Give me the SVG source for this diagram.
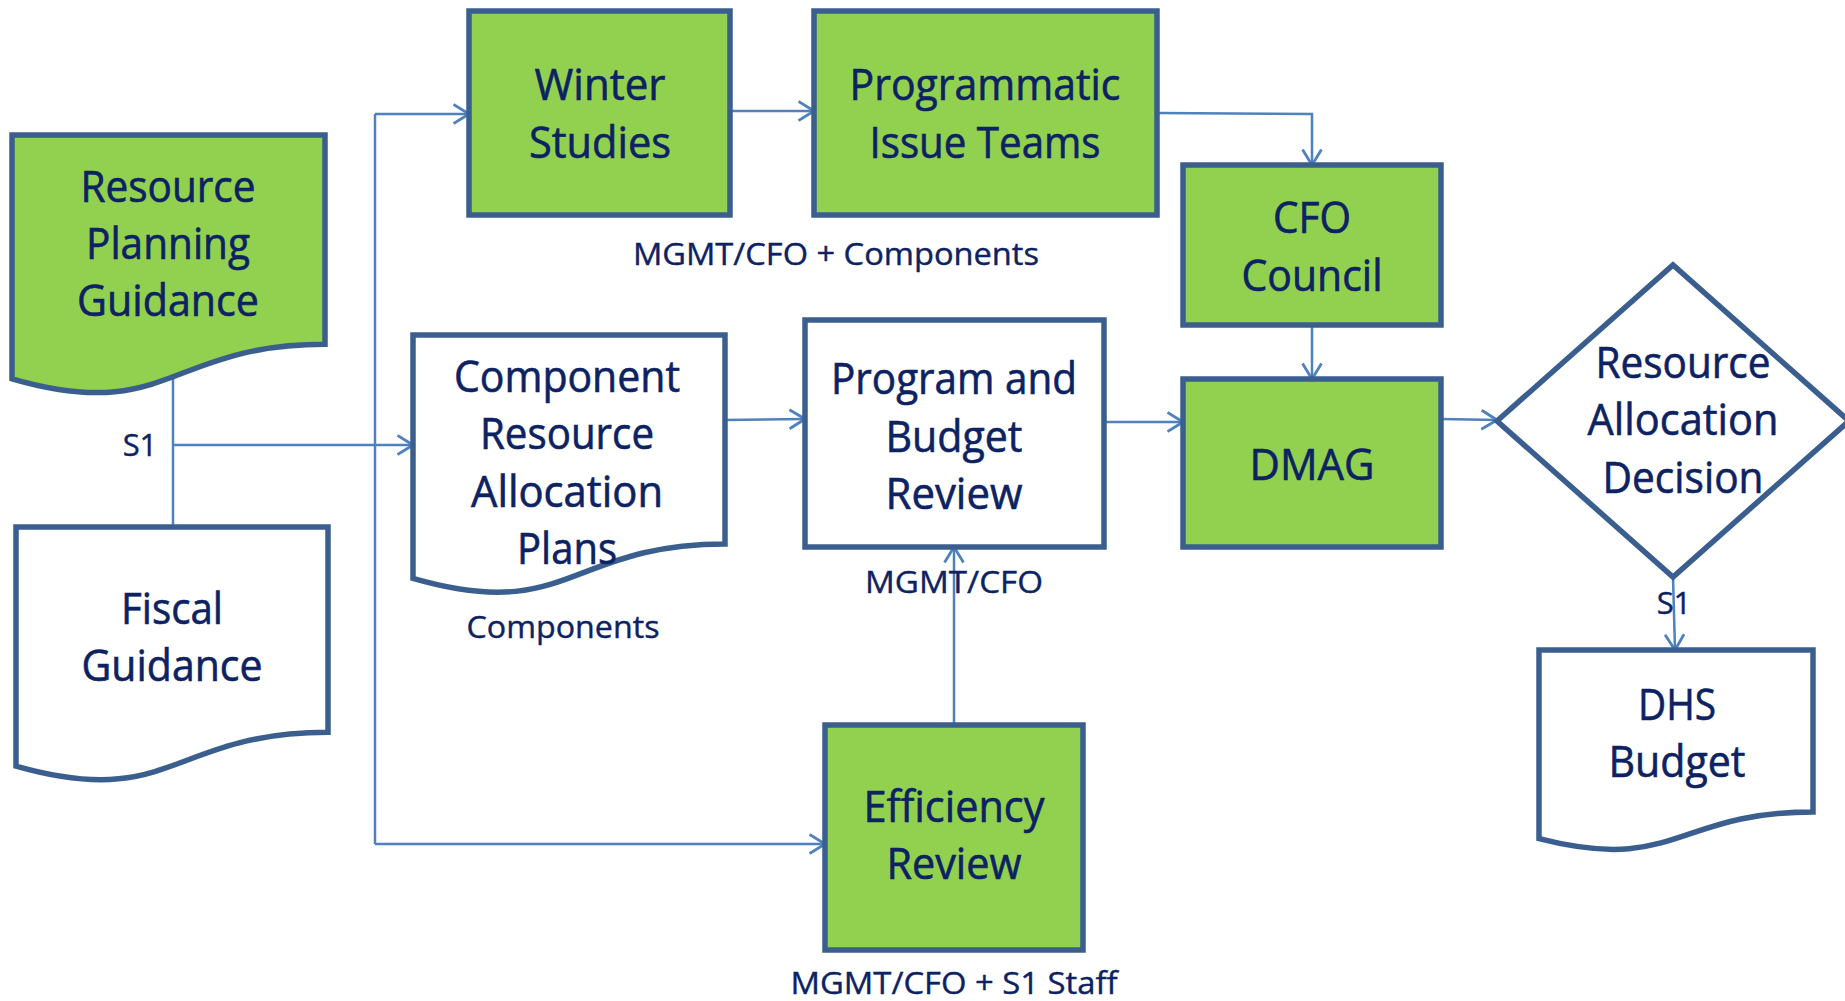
<svg xmlns="http://www.w3.org/2000/svg" width="1845" height="1001" viewBox="0 0 1845 1001">
<style>
.n{stroke:#3a5f8e;stroke-width:5.5;stroke-linejoin:miter}
.g{fill:#92d050}
.w{fill:#ffffff}
.c{fill:none;stroke:#4f81bd;stroke-width:2.5}
text{font-family:"Open Sans","Liberation Sans",sans-serif;fill:#0c2262;stroke:#0c2262;stroke-width:0.6;text-anchor:middle}
.t{font-size:43px}
.l{font-size:31px;stroke-width:0.4}
</style>
<defs>
<marker id="ar" markerUnits="userSpaceOnUse" viewBox="0 0 18 22" refX="16.5" refY="11" markerWidth="18" markerHeight="22" orient="auto">
<path d="M1,1.5 L16.5,11 L1,20.5" fill="none" stroke="#4f81bd" stroke-width="2.8"/>
</marker>
</defs>
<rect width="1845" height="1001" fill="#ffffff"/>
<g id="connectors">
<path class="c" d="M173,370 V527"/>
<path class="c" d="M173,445 H413" marker-end="url(#ar)"/>
<path class="c" d="M375,114 V844"/>
<path class="c" d="M375,114 H469" marker-end="url(#ar)"/>
<path class="c" d="M375,844 H825" marker-end="url(#ar)"/>
<path class="c" d="M730,111 H814" marker-end="url(#ar)"/>
<path class="c" d="M1157,113 L1312,114 V165" marker-end="url(#ar)"/>
<path class="c" d="M1312,325 V379" marker-end="url(#ar)"/>
<path class="c" d="M725,420 L805,419" marker-end="url(#ar)"/>
<path class="c" d="M1104,422 H1183" marker-end="url(#ar)"/>
<path class="c" d="M1441,419 L1497,420" marker-end="url(#ar)"/>
<path class="c" d="M954,725 V547" marker-end="url(#ar)"/>
<path class="c" d="M1673,577 L1675,650" marker-end="url(#ar)"/>
</g>
<g id="resource-planning-guidance">
<path class="n g" d="M12,135 H325 V344.3 C168.5,344.3 168.5,424 12,378.8 Z"/>
<text class="t" x="168" y="202" textLength="175" lengthAdjust="spacingAndGlyphs">Resource</text>
<text class="t" x="168" y="259" textLength="164" lengthAdjust="spacingAndGlyphs">Planning</text>
<text class="t" x="168" y="316" textLength="182" lengthAdjust="spacingAndGlyphs">Guidance</text>
</g>
<g id="fiscal-guidance">
<path class="n w" d="M16,527 H328 V732.3 C172,732.3 172,810.5 16,766.1 Z"/>
<text class="t" x="172" y="624" textLength="102" lengthAdjust="spacingAndGlyphs">Fiscal</text>
<text class="t" x="172" y="681" textLength="181" lengthAdjust="spacingAndGlyphs">Guidance</text>
</g>
<g id="winter-studies">
<rect class="n g" x="469" y="11" width="261" height="204"/>
<text class="t" x="600" y="100" textLength="131" lengthAdjust="spacingAndGlyphs">Winter</text>
<text class="t" x="600" y="158" textLength="142" lengthAdjust="spacingAndGlyphs">Studies</text>
</g>
<g id="programmatic-issue-teams">
<rect class="n g" x="814" y="11" width="343" height="204"/>
<text class="t" x="985" y="100" textLength="271" lengthAdjust="spacingAndGlyphs">Programmatic</text>
<text class="t" x="985" y="158" textLength="231" lengthAdjust="spacingAndGlyphs">Issue Teams</text>
</g>
<text class="l" x="836" y="265" textLength="406" lengthAdjust="spacingAndGlyphs">MGMT/CFO + Components</text>
<g id="cfo-council">
<rect class="n g" x="1183" y="165" width="258" height="160"/>
<text class="t" x="1312" y="233" textLength="78" lengthAdjust="spacingAndGlyphs">CFO</text>
<text class="t" x="1312" y="291" textLength="141" lengthAdjust="spacingAndGlyphs">Council</text>
</g>
<g id="dmag">
<rect class="n g" x="1183" y="379" width="258" height="168"/>
<text class="t" x="1312" y="480" textLength="125" lengthAdjust="spacingAndGlyphs">DMAG</text>
</g>
<g id="resource-allocation-decision">
<path class="n w" d="M1497,421 L1673,265 L1849,421 L1673,577 Z"/>
<text class="t" x="1683" y="378" textLength="175" lengthAdjust="spacingAndGlyphs">Resource</text>
<text class="t" x="1683" y="435" textLength="191" lengthAdjust="spacingAndGlyphs">Allocation</text>
<text class="t" x="1683" y="493" textLength="161" lengthAdjust="spacingAndGlyphs">Decision</text>
</g>
<g id="dhs-budget">
<path class="n w" d="M1539,650 H1813 V812 C1676,812 1676,873.7 1539,838.7 Z"/>
<text class="t" x="1677" y="720" textLength="78" lengthAdjust="spacingAndGlyphs">DHS</text>
<text class="t" x="1677" y="777" textLength="137" lengthAdjust="spacingAndGlyphs">Budget</text>
</g>
<g id="component-resource-allocation-plans">
<path class="n w" d="M413,335 H725 V544 C569,544 569,623.6 413,578.4 Z"/>
<text class="t" x="567" y="392" textLength="226" lengthAdjust="spacingAndGlyphs">Component</text>
<text class="t" x="567" y="449" textLength="174" lengthAdjust="spacingAndGlyphs">Resource</text>
<text class="t" x="567" y="507" textLength="192" lengthAdjust="spacingAndGlyphs">Allocation</text>
<text class="t" x="567" y="564" textLength="100" lengthAdjust="spacingAndGlyphs">Plans</text>
</g>
<text class="l" x="563" y="638" textLength="193" lengthAdjust="spacingAndGlyphs">Components</text>
<g id="program-and-budget-review">
<rect class="n w" x="805" y="320" width="299" height="227"/>
<text class="t" x="954" y="394" textLength="246" lengthAdjust="spacingAndGlyphs">Program and</text>
<text class="t" x="954" y="452" textLength="137" lengthAdjust="spacingAndGlyphs">Budget</text>
<text class="t" x="954" y="509" textLength="137" lengthAdjust="spacingAndGlyphs">Review</text>
</g>
<text class="l" x="954" y="593" textLength="178" lengthAdjust="spacingAndGlyphs">MGMT/CFO</text>
<g id="efficiency-review">
<rect class="n g" x="825" y="725" width="258" height="225"/>
<text class="t" x="954" y="822" textLength="181" lengthAdjust="spacingAndGlyphs">Efficiency</text>
<text class="t" x="954" y="879" textLength="135" lengthAdjust="spacingAndGlyphs">Review</text>
</g>
<text class="l" x="954" y="994" textLength="327" lengthAdjust="spacingAndGlyphs">MGMT/CFO + S1 Staff</text>
<text class="l" x="140" y="456">S1</text>
<text class="l" x="1674" y="614">S1</text>
</svg>
